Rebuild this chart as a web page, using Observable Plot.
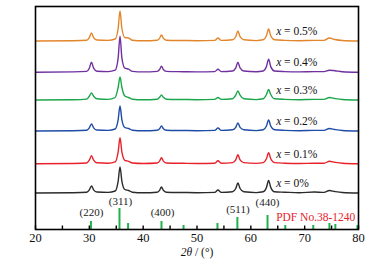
<!DOCTYPE html>
<html>
<head>
<meta charset="utf-8">
<script src="https://cdn.jsdelivr.net/npm/d3@7"></script>
<script src="https://cdn.jsdelivr.net/npm/@observablehq/plot@0.6"></script>
<style>
  html, body { margin: 0; padding: 0; background: #fff; }
</style>
</head>
<body>
<div id="chart"></div>
<script>
// 2θ sample positions shared by all patterns
const twoTheta = [20, 27, 29.5, 30.0, 30.4, 30.8, 31.4, 33.5, 34.8, 35.35, 35.7, 36.05, 36.6, 37.3, 38.0, 40,
  42.6, 43.05, 43.4, 43.75, 44.3, 47.4, 50, 53.3, 53.9, 54.5, 56.6, 57.2, 57.6, 58.0, 58.7, 61,
  62.3, 62.9, 63.3, 63.7, 64.4, 66.3, 69, 71.8, 73.6, 74.6, 75.6, 77, 80];

// sample names (bottom to top)
const samples = ["x = 0%", "x = 0.1%", "x = 0.2%", "x = 0.3%", "x = 0.4%", "x = 0.5%"];
// vertical stacking offsets of each pattern (a.u.)
const offsets = [36.5, 65.7, 98.5, 129.5, 157.3, 188.5];
const colors = ["#2b2b2b", "#e8222b", "#1f4ca6", "#1ca64b", "#7030a0", "#e3862b"];

// intensities (a.u.)
const int0 = [0,0.3,0.8,3.2,7,3.2,1,0.6,2,11.7,26,11.7,3.5,2.5,0.8,0.3,0.8,2.7,6,2.7,0.8,0.5,0.3,0.6,3,0.6,1.2,4.5,10,4.5,1.2,0.4,1.2,5.6,12.5,5.6,1.2,0.8,0.3,1,0.6,2.5,1.5,0.5,0];
const int1 = [0,0.3,0.8,3.6,8,3.6,1,0.6,2,11.7,26,11.7,3.5,2.5,0.8,0.3,0.8,2.7,6,2.7,0.8,0.5,0.3,0.6,3,0.6,1.2,4,9,4,1.2,0.4,1.2,5,11,5,1.2,0.6,0.3,0.6,0.6,2.5,1.5,0.5,0];
const int2 = [0,0.3,0.8,3.2,7,3.2,1,0.6,2,11.2,25,11.2,3.5,2.5,0.8,0.3,0.8,2.3,5,2.3,0.8,0.5,0.3,0.6,3,0.6,1.2,3.6,8,3.6,1.2,0.4,1.2,5,11,5,1.2,0.6,0.3,0.6,0.6,2.5,1.5,0.5,0];
const int3 = [0,0.3,0.9,3.8,7,3.8,1.2,0.6,2.5,12.5,23,12.5,4,2.5,0.8,0.3,0.8,2.7,5,2.7,0.8,0.5,0.3,0.6,2.5,0.6,1.2,4.8,9,4.8,1.2,0.4,1.2,5.5,10.5,5.5,1.2,0.6,0.3,0.6,0.6,2.5,1.5,0.5,0];
const int4 = [0,0.3,0.8,4,10,4,1,0.6,2,14,36,14,4,3,0.8,0.3,0.8,2.7,6,2.7,0.8,0.5,0.3,0.6,3,0.6,1.2,4.3,10,4.3,1.2,0.4,1.2,5.6,13,5.6,1.2,0.6,0.3,0.6,0.6,2,1.5,0.5,0];
const int5 = [0,0.3,0.8,3.4,8,3.4,1,0.6,2,12.5,30,12.5,3.5,3,0.8,0.3,0.8,2.7,6,2.7,0.8,0.5,0.3,0.6,3,0.6,1.2,4.3,10,4.3,1.2,0.4,1.2,5.2,12,5.2,1.2,0.6,0.3,0.6,0.6,3,1.5,0.5,0];
const intensities = [int0, int1, int2, int3, int4, int5];

// standard card PDF No.38-1240
const refPos = [30.3, 35.6, 37.2, 43.4, 47.5, 53.8, 57.5, 63.1, 66.4, 71.6, 74.6, 75.7, 79.8];
const refInt = [8, 21, 6, 8, 4, 6, 12, 14, 4, 4, 6, 5, 4];

// (hkl) annotations
const hklText = ["(220)", "(311)", "(400)", "(511)", "(440)"];
const hklPos = [30.4, 35.8, 43.6, 57.6, 63.1];
const hklY = [17, 28, 17, 20, 27.5];

const majorTicks = [20, 30, 40, 50, 60, 70, 80];
const minorTicks = [25, 35, 45, 55, 65, 75];
const xTitle = "2θ / (°)";

const serif = "'Liberation Serif', 'Times New Roman', serif";

const marks = [];
intensities.forEach((arr, i) => {
  const data = twoTheta.map((x, j) => ({x, y: offsets[i] + arr[j]}));
  marks.push(Plot.line(data, {x: "x", y: "y", stroke: colors[i], strokeWidth: 1.4, curve: "monotone-x"}));
});
const refData = refPos.map((x, i) => ({x, y: refInt[i]}));
marks.push(Plot.ruleX(refData, {x: "x", y1: 0, y2: "y", stroke: "#22b14c", strokeWidth: 2}));
marks.push(Plot.ruleX(majorTicks.concat(minorTicks), {x: d => d, y1: 0, y2: 3.5, stroke: "#000", strokeWidth: 1.4}));
marks.push(Plot.text(hklText.map((t, i) => ({t, x: hklPos[i], y: hklY[i]})), {x: "x", y: "y", text: "t", fontSize: 11, fill: "#222"}));
marks.push(Plot.text(["PDF No.38-1240"], {x: 64.7, y: 12, text: d => d, textAnchor: "start", fontSize: 11.5, fill: "#e8222b"}));
marks.push(Plot.text(samples.map((s, i) => ({s, x: 64.7, y: offsets[i] + 9.8})), {x: "x", y: "y", text: "s", textAnchor: "start", fontSize: 11.5, fill: "#111"}));
marks.push(Plot.frame({stroke: "#000", strokeWidth: 1.6}));
marks.push(Plot.axisX(majorTicks, {tickSize: 0, tickPadding: 4, fontSize: 12.5, label: null}));
marks.push(Plot.text([xTitle], {frameAnchor: "bottom", dy: 26, text: d => d, fontSize: 11.5, fill: "#111"}));

const svg = Plot.plot({
  width: 384,
  height: 266,
  marginLeft: 35,
  marginRight: 26,
  marginTop: 6,
  marginBottom: 37,
  style: {background: "#fff", fontFamily: serif, color: "#111"},
  x: {domain: [20, 80]},
  y: {domain: [0, 223], axis: null},
  marks
});

// mixed italic styling
const ns = "http://www.w3.org/2000/svg";
function styleText(el, italicPart, rest) {
  while (el.firstChild) el.removeChild(el.firstChild);
  const t1 = document.createElementNS(ns, "tspan");
  t1.setAttribute("font-style", "italic");
  t1.style.fontStyle = "italic";
  t1.textContent = italicPart;
  const t2 = document.createElementNS(ns, "tspan");
  t2.textContent = rest;
  el.appendChild(t1);
  el.appendChild(t2);
}
svg.querySelectorAll("text").forEach(el => {
  const s = el.textContent;
  if (samples.includes(s)) styleText(el, "x", s.slice(1));
  else if (s === xTitle) styleText(el, "2θ", " / (°)");
});

document.getElementById("chart").appendChild(svg);
</script>
</body>
</html>
